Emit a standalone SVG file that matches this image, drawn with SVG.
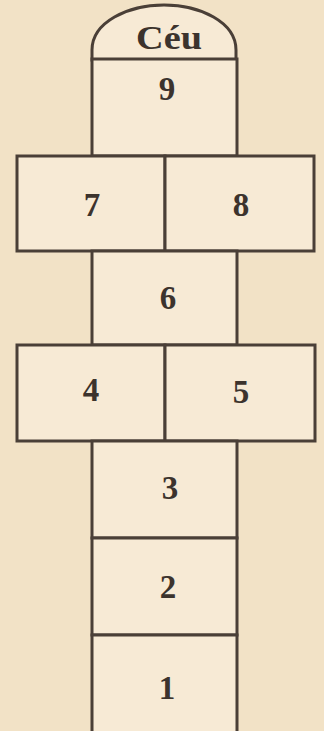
<svg xmlns="http://www.w3.org/2000/svg" width="324" height="731" viewBox="0 0 324 731">
<style>
.b{fill:#f7ead5;stroke:#4a3f37;stroke-width:3;stroke-linejoin:miter}
.t{font-family:"Liberation Serif","DejaVu Serif",serif;font-weight:bold;font-size:33px;fill:#3c332d;text-anchor:middle}
</style>
<rect x="0" y="0" width="324" height="731" fill="#f2e2c6"/>
<g id="ceu">
<path class="b" d="M92,60 L92,50 C92,22 128,5 164,5 C200,5 236,22 236,50 L236,60 Z"/>
<text class="t" x="169" y="49" font-size="34" textLength="66" lengthAdjust="spacingAndGlyphs">Céu</text>
</g>
<g id="n9">
<rect class="b" x="92" y="59" width="145" height="97"/>
<text class="t" x="167" y="100">9</text>
</g>
<g id="n7">
<rect class="b" x="17" y="156" width="148" height="95"/>
<text class="t" x="92" y="216">7</text>
</g>
<g id="n8">
<rect class="b" x="165" y="156" width="149" height="95"/>
<text class="t" x="241" y="216">8</text>
</g>
<g id="n6">
<rect class="b" x="92" y="251" width="145" height="94"/>
<text class="t" x="168" y="309">6</text>
</g>
<g id="n4">
<rect class="b" x="17" y="345" width="148" height="96"/>
<text class="t" x="91" y="401">4</text>
</g>
<g id="n5">
<rect class="b" x="165" y="345" width="150" height="96"/>
<text class="t" x="241" y="403">5</text>
</g>
<g id="n3">
<rect class="b" x="92" y="441" width="145" height="97"/>
<text class="t" x="170" y="499">3</text>
</g>
<g id="n2">
<rect class="b" x="92" y="538" width="145" height="97"/>
<text class="t" x="168" y="598">2</text>
</g>
<g id="n1">
<path class="b" d="M92,735 L92,635 L237,635 L237,735"/>
<text class="t" x="167" y="699">1</text>
</g>
<g id="connectors"></g>
</svg>
